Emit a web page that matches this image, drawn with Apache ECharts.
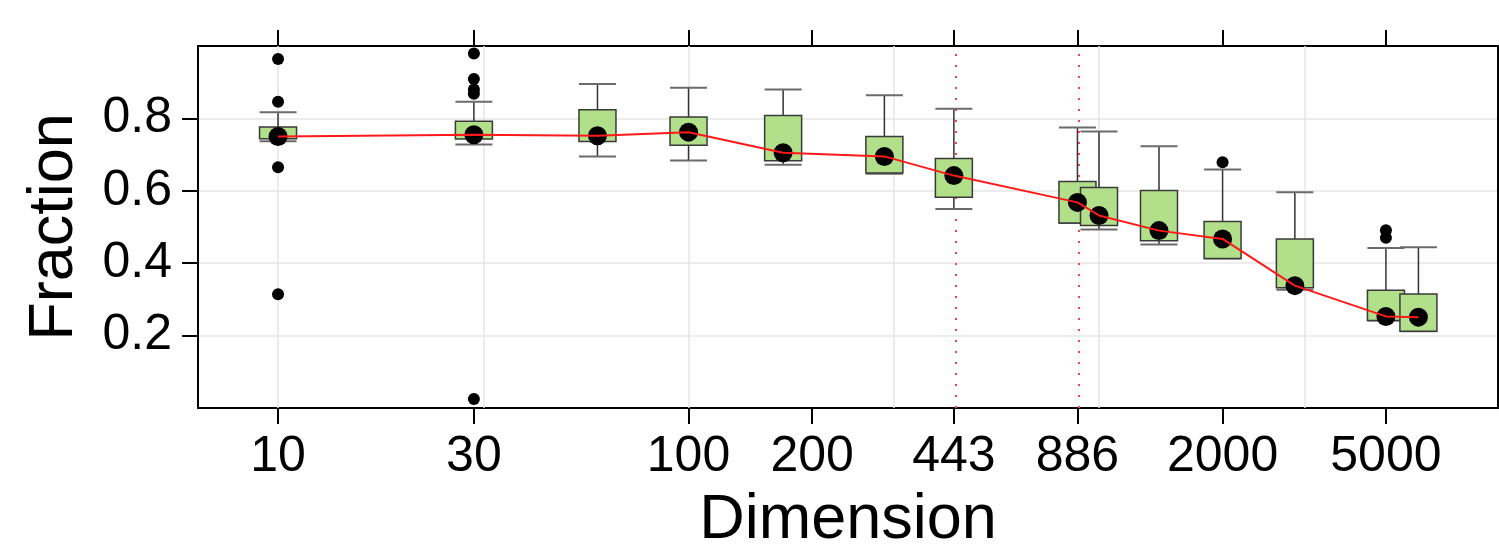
<!DOCTYPE html>
<html>
<head>
<meta charset="utf-8">
<title>Fraction vs Dimension</title>
<script src="https://cdn.jsdelivr.net/npm/echarts@6/dist/echarts.min.js"></script>
<style>
  html, body { margin: 0; padding: 0; background: #fff; }
  #chart { width: 1499px; height: 548px; }
</style>
</head>
<body>
<div id="chart"></div>
<script>
// box positions (dimension) and box summaries
const dims = [10, 30, 60, 100, 170, 300, 443, 886, 1000, 1400, 2000, 3000, 5000, 6000]
const whiskerLow = [0.737, 0.728, 0.695, 0.684, 0.672, 0.647, 0.550, 0.511, 0.493, 0.452, 0.413, 0.327, 0.242, 0.212]
const q1 = [0.744, 0.743, 0.736, 0.726, 0.683, 0.649, 0.582, 0.511, 0.504, 0.462, 0.413, 0.332, 0.242, 0.212]
const medians = [0.750, 0.755, 0.752, 0.762, 0.705, 0.695, 0.642, 0.568, 0.532, 0.490, 0.467, 0.338, 0.253, 0.251]
const q3 = [0.776, 0.792, 0.824, 0.804, 0.808, 0.750, 0.689, 0.626, 0.609, 0.601, 0.515, 0.467, 0.325, 0.315]
const whiskerHigh = [0.817, 0.846, 0.895, 0.885, 0.880, 0.864, 0.827, 0.775, 0.764, 0.723, 0.659, 0.596, 0.442, 0.444]

// outliers
const outlierDims = [10, 10, 10, 10, 30, 30, 30, 30, 30, 2000, 5000, 5000]
const outlierValues = [0.964, 0.846, 0.665, 0.314, 0.979, 0.909, 0.880, 0.868, 0.025, 0.679, 0.491, 0.470]

// axes
const xTickLabels = [10, 30, 100, 200, 443, 886, 2000, 5000]
const xGridLog = [1, 1.5, 2, 2.5, 3, 3.5]
const refLines = [443, 886]
const yTickLabels = [0.2, 0.4, 0.6, 0.8]

const FONT = '"Liberation Sans", Arial, Helvetica, sans-serif'
const lg = v => Math.log10(v)
const xTicks = xTickLabels.map(lg)

const chart = echarts.init(document.getElementById('chart'), null, { renderer: 'canvas' })

const boxData = dims.map((d, i) => [lg(d), whiskerLow[i], q1[i], medians[i], q3[i], whiskerHigh[i]])

const renderBox = (params, api) => {
  const x = api.value(0)
  const lo = api.coord([x, api.value(1)])
  const b1 = api.coord([x, api.value(2)])
  const b3 = api.coord([x, api.value(4)])
  const hi = api.coord([x, api.value(5)])
  const half = 18.5
  const stem = { stroke: '#333', lineWidth: 1.5 }
  const cap = { stroke: '#6b6b6b', lineWidth: 2 }
  return {
    type: 'group',
    children: [
      { type: 'line', shape: { x1: lo[0], y1: lo[1], x2: b1[0], y2: b1[1] }, style: stem },
      { type: 'line', shape: { x1: hi[0], y1: hi[1], x2: b3[0], y2: b3[1] }, style: stem },
      { type: 'line', shape: { x1: lo[0] - half, y1: lo[1], x2: lo[0] + half, y2: lo[1] }, style: cap },
      { type: 'line', shape: { x1: hi[0] - half, y1: hi[1], x2: hi[0] + half, y2: hi[1] }, style: cap },
      {
        type: 'rect',
        shape: { x: b1[0] - half, y: b3[1], width: half * 2, height: b1[1] - b3[1] },
        style: { fill: '#b2df8a', stroke: '#3a3a3a', lineWidth: 1.5 }
      }
    ]
  }
}

const markLines = xGridLog.map(v => ({
  xAxis: v,
  lineStyle: { color: '#e6e6e6', width: 1.5, type: 'solid' }
})).concat(refLines.map(v => ({
  xAxis: lg(v),
  lineStyle: { color: '#ff4040', width: 2, type: [2, 9] }
})))

const option = {
  backgroundColor: '#fff',
  animation: false,
  textStyle: { fontFamily: FONT },
  grid: { left: 198, top: 46, width: 1300, height: 362, outerBoundsMode: 'none', containLabel: false },
  xAxis: [
    {
      type: 'value',
      position: 'bottom',
      min: 0.805,
      max: 3.972,
      name: 'Dimension',
      nameLocation: 'middle',
      nameGap: 81,
      nameTextStyle: { fontSize: 63, color: '#000', fontFamily: FONT },
      axisLine: { show: true, onZero: false, lineStyle: { color: '#000', width: 2 } },
      axisTick: { show: true, customValues: xTicks, length: 16, lineStyle: { color: '#000', width: 2 } },
      axisLabel: {
        customValues: xTicks,
        margin: 24,
        fontSize: 50,
        color: '#000',
        fontFamily: FONT,
        formatter: v => String(Math.round(Math.pow(10, v)))
      },
      splitLine: { show: false }
    },
    {
      type: 'value',
      position: 'top',
      min: 0.805,
      max: 3.972,
      axisLine: { show: true, onZero: false, lineStyle: { color: '#000', width: 2 } },
      axisTick: { show: true, customValues: xTicks, length: 16, lineStyle: { color: '#000', width: 2 } },
      axisLabel: { show: false },
      splitLine: { show: false }
    }
  ],
  yAxis: [
    {
      type: 'value',
      position: 'left',
      min: 0,
      max: 1.0,
      interval: 0.2,
      name: 'Fraction',
      nameLocation: 'middle',
      nameGap: 112,
      nameTextStyle: { fontSize: 63, color: '#000', fontFamily: FONT },
      axisLine: { show: true, onZero: false, lineStyle: { color: '#000', width: 2 } },
      axisTick: { show: true, customValues: yTickLabels, length: 16, lineStyle: { color: '#000', width: 2 } },
      axisLabel: {
        customValues: yTickLabels,
        margin: 26,
        fontSize: 50,
        color: '#000',
        fontFamily: FONT,
        formatter: v => v.toFixed(1)
      },
      splitLine: { show: true, lineStyle: { color: '#e6e6e6', width: 1.5 } }
    },
    {
      type: 'value',
      position: 'right',
      min: 0,
      max: 1.0,
      axisLine: { show: true, onZero: false, lineStyle: { color: '#000', width: 2 } },
      axisTick: { show: false },
      axisLabel: { show: false },
      splitLine: { show: false }
    }
  ],
  series: [
    {
      name: 'boxes',
      type: 'custom',
      xAxisIndex: 0,
      yAxisIndex: 0,
      z: 3,
      silent: true,
      renderItem: renderBox,
      encode: { x: 0, y: [1, 2, 3, 4, 5] },
      data: boxData,
      clip: true
    },
    {
      name: 'outliers',
      type: 'scatter',
      z: 4,
      silent: true,
      symbol: 'circle',
      symbolSize: 12,
      itemStyle: { color: '#000', opacity: 1 },
      data: outlierDims.map((d, i) => [lg(d), outlierValues[i]])
    },
    {
      name: 'medians',
      type: 'scatter',
      z: 5,
      silent: true,
      symbol: 'circle',
      symbolSize: 19,
      itemStyle: { color: '#000', opacity: 1 },
      data: dims.map((d, i) => [lg(d), medians[i]])
    },
    {
      name: 'median line',
      type: 'line',
      z: 6,
      silent: true,
      showSymbol: false,
      symbol: 'none',
      lineStyle: { color: '#ff1a1a', width: 2 },
      data: dims.map((d, i) => [lg(d), medians[i]]),
      markLine: {
        z: 1,
        silent: true,
        symbol: ['none', 'none'],
        label: { show: false },
        animation: false,
        data: markLines
      }
    }
  ]
}

chart.setOption(option)
</script>
</body>
</html>
